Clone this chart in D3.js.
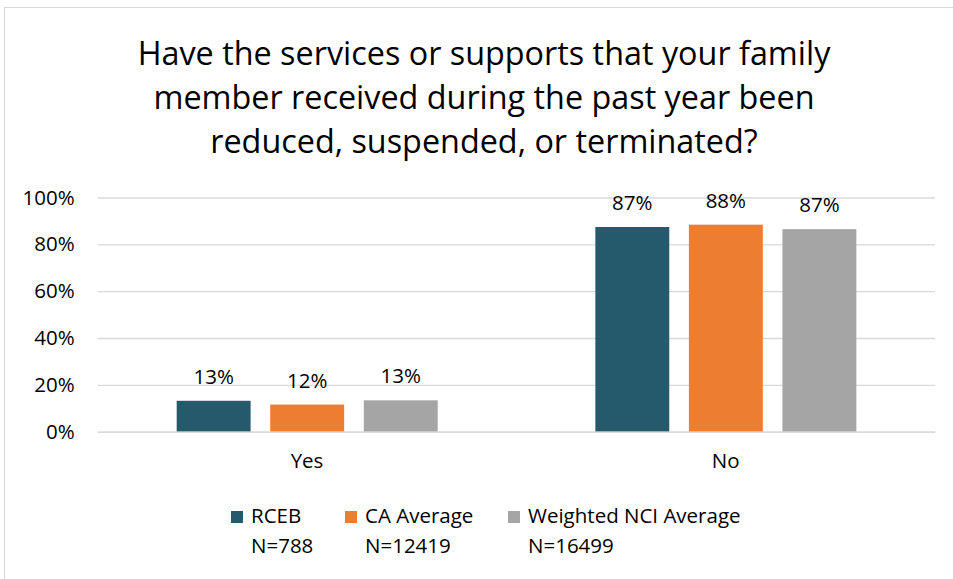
<!DOCTYPE html>
<html><head><meta charset="utf-8">
<script src="https://cdn.jsdelivr.net/npm/d3@7"></script>
<style>body{margin:0;background:#fff}svg{display:block}text{font-family:'Open Sans',sans-serif;fill:#000}</style>
</head><body>
<script>
const categories = ["Yes", "No"];
const seriesNames = ["RCEB", "CA Average", "Weighted NCI Average"];
const seriesN = ["N=788", "N=12419", "N=16499"];
const rceb = [13.2, 87.4];
const caAvg = [11.6, 88.4];
const nciAvg = [13.4, 86.5];
const seriesValues = [rceb, caAvg, nciAvg];
const colors = ["#245A6B", "#ED7D31", "#A5A5A5"];
const yTicks = [0, 20, 40, 60, 80, 100];
const titleLines = ["Have the services or supports that your family", "member received during the past year been", "reduced, suspended, or terminated?"];

const W = 953, H = 579, FS = "20.5px", FF = "'Open Sans',sans-serif";
const svg = d3.select("body").append("svg").attr("width", W).attr("height", H);
svg.append("rect").attr("x", 4.5).attr("y", 7.5).attr("width", 1000).attr("height", 1000)
  .attr("fill", "#fff").attr("stroke", "#d9d9d9");

const tl = svg.append("g").selectAll("text").data(titleLines).join("text")
  .attr("x", 484).attr("y", (d, i) => 65 + i * 44).attr("text-anchor", "middle")
  .style("font-size", "30px").text(d => d);
const w0 = tl.node().getComputedTextLength();
tl.style("font-size", (30 * 693 / w0) + "px");

const plotL = 97.7, plotR = 935, y0 = 431.7, y100 = 197.5;
const y = d3.scaleLinear().domain([0, 100]).range([y0, y100]);
const x0 = d3.scaleBand().domain(categories).range([plotL, plotR]).padding(0);
const x1 = d3.scaleBand().domain(seriesNames).range([79, 340]).paddingInner(0.21);

const yAxis = d3.axisLeft(y).tickValues(yTicks).tickSize(-(plotR - plotL)).tickFormat(d => d + "%").tickPadding(23);
const ga = svg.append("g").attr("transform", `translate(${plotL},0)`).call(yAxis);
ga.select(".domain").remove();
ga.selectAll(".tick line").attr("stroke", "#d9d9d9").attr("stroke-width", 1.3);
ga.selectAll(".tick text").style("font-size", FS).attr("fill", "#000").style("font-family", FF);

const groups = svg.append("g").selectAll("g").data(categories).join("g")
  .attr("transform", d => `translate(${x0(d)},0)`);
groups.each(function(cat, ci) {
  const g = d3.select(this);
  const data = seriesNames.map((s, si) => ({s, si, v: seriesValues[si][ci]}));
  g.selectAll("rect").data(data).join("rect")
    .attr("x", d => x1(d.s)).attr("width", x1.bandwidth())
    .attr("y", d => y(d.v)).attr("height", d => y0 - y(d.v))
    .attr("fill", d => colors[d.si]);
  g.selectAll("text.lbl").data(data).join("text").attr("class", "lbl")
    .attr("x", d => x1(d.s) + x1.bandwidth() / 2).attr("y", d => y(d.v) - 17)
    .attr("text-anchor", "middle").style("font-size", FS)
    .text(d => Math.round(d.v) + "%");
});

const xAxis = d3.axisBottom(x0).tickSize(0).tickPadding(22);
const gx = svg.append("g").attr("transform", `translate(0,${y0})`).call(xAxis);
gx.select(".domain").attr("stroke", "#d9d9d9").attr("stroke-width", 1.3);
gx.selectAll(".tick text").style("font-size", FS).attr("fill", "#000").style("font-family", FF);

const legX = [231, 345, 508];
const lg = svg.append("g").selectAll("g").data(seriesNames).join("g")
  .attr("transform", (d, i) => `translate(${legX[i]},0)`);
lg.append("rect").attr("x", 0).attr("y", 511).attr("width", 12).attr("height", 12).attr("fill", (d, i) => colors[i]);
lg.append("text").attr("x", 20).attr("y", 523).style("font-size", FS).text(d => d);
lg.append("text").attr("x", 20).attr("y", 553).style("font-size", FS).text((d, i) => seriesN[i]);
</script>
</body></html>
